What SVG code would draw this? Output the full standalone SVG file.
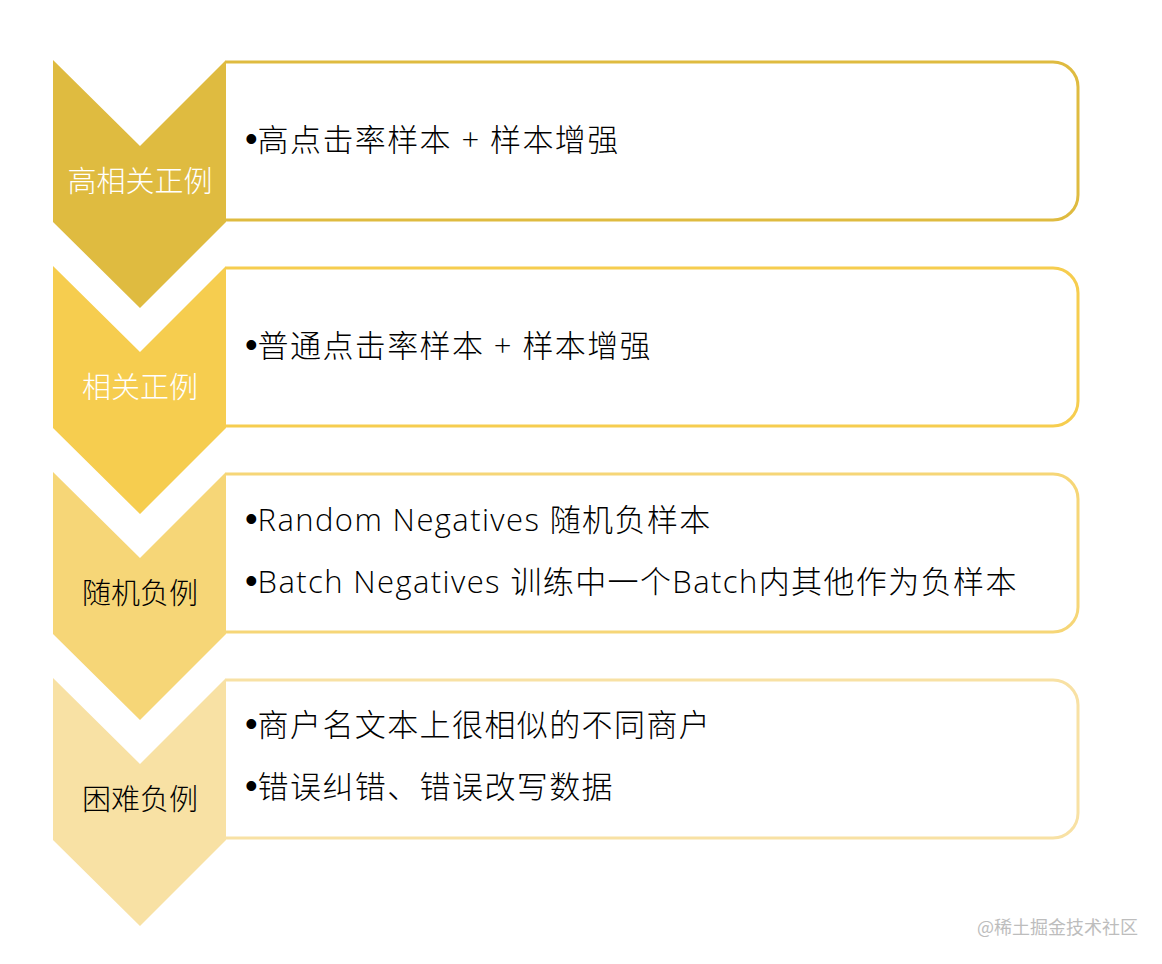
<svg xmlns="http://www.w3.org/2000/svg" width="1162" height="964" viewBox="0 0 1162 964">
<style>
.lbl{font-family:"Noto Sans CJK SC","Liberation Sans",sans-serif;font-size:29px;text-anchor:middle;font-weight:300}
.txt{font-family:"Open Sans","Noto Sans CJK SC",sans-serif;font-size:31px;fill:#000;letter-spacing:1.4px;font-weight:300}
.b{font-family:"Liberation Sans",sans-serif;letter-spacing:0;font-size:36px}
.box{fill:#fff;stroke-width:3}
</style>
<rect width="1162" height="964" fill="#fff"/>
<g id="connectors"></g>
<g id="row1">
<path class="box" stroke="#DFBB40" d="M226,62 H1053 A25,25 0 0 1 1078,87 V195 A25,25 0 0 1 1053,220 H226"/>
<polygon fill="#DFBB40" points="53,60 140,146 226,60 226,222 140,308 53,222"/>
<text class="lbl" x="140" y="192" fill="#fff">高相关正例</text>
<text class="txt" x="245" y="151"><tspan class="b">•</tspan>高点击率样本 + 样本增强</text>
</g>
<g id="row2">
<path class="box" stroke="#F6CD4F" d="M226,268 H1053 A25,25 0 0 1 1078,293 V401 A25,25 0 0 1 1053,426 H226"/>
<polygon fill="#F6CD4F" points="53,266 140,352 226,266 226,428 140,514 53,428"/>
<text class="lbl" x="140" y="398" fill="#fff">相关正例</text>
<text class="txt" x="245" y="357"><tspan class="b">•</tspan>普通点击率样本 + 样本增强</text>
</g>
<g id="row3">
<path class="box" stroke="#F6D677" d="M226,474 H1053 A25,25 0 0 1 1078,499 V607 A25,25 0 0 1 1053,632 H226"/>
<polygon fill="#F6D677" points="53,472 140,558 226,472 226,634 140,720 53,634"/>
<text class="lbl" x="140" y="604" fill="#000">随机负例</text>
<text class="txt" x="245" y="531"><tspan class="b">•</tspan>Random Negatives 随机负样本</text>
<text class="txt" x="245" y="593"><tspan class="b">•</tspan>Batch Negatives 训练中一个Batch内其他作为负样本</text>
</g>
<g id="row4">
<path class="box" stroke="#F8E1A4" d="M226,680 H1053 A25,25 0 0 1 1078,705 V813 A25,25 0 0 1 1053,838 H226"/>
<polygon fill="#F8E1A4" points="53,678 140,764 226,678 226,840 140,926 53,840"/>
<text class="lbl" x="140" y="810" fill="#000">困难负例</text>
<text class="txt" x="245" y="736"><tspan class="b">•</tspan>商户名文本上很相似的不同商户</text>
<text class="txt" x="245" y="798"><tspan class="b">•</tspan>错误纠错、错误改写数据</text>
</g>
<text x="1138" y="934" text-anchor="end" font-family="Noto Sans CJK SC,sans-serif" font-size="18" fill="#BDBDBD">@稀土掘金技术社区</text>
</svg>
